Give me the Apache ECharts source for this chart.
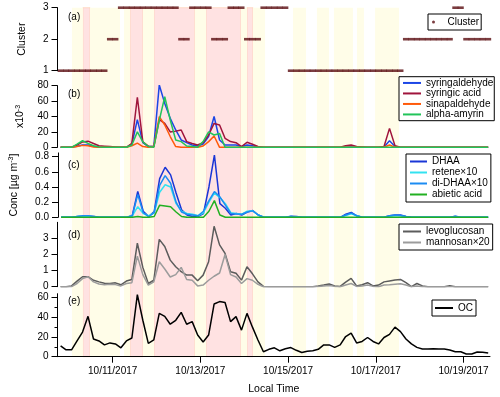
<!DOCTYPE html>
<html>
<head>
<meta charset="utf-8">
<script src="https://cdn.jsdelivr.net/npm/echarts@6/dist/echarts.min.js"></script>
<style>
  html, body { margin: 0; padding: 0; background: #fff; }
  #chart { width: 500px; height: 397px; }
</style>
</head>
<body>
<div id="chart"></div>
<script>
/* Time: hours after 10/11/2017 00:00, 3-h samples (midpoints) */
const sampleStart = -28.5;
const sampleStep = 3;
const sampleCount = 79;
const sampleHours = Array.from({ length: sampleCount }, (_, i) => sampleStart + i * sampleStep);

const tickHours = [0, 48, 96, 144, 192];
const tickLabels = ["10/11/2017", "10/13/2017", "10/15/2017", "10/17/2017", "10/19/2017"];

/* Shaded periods [start, end] in hours after 10/11/2017 00:00 */
const pinkBands = [[-16.3, -12.4], [9.5, 16.6], [22.6, 45.0], [51.1, 70.2], [73.5, 76.8]];
const yellowBands = [[-22.3, -16.3], [-12.4, 4.0], [6.2, 9.5], [16.6, 22.6], [45.0, 51.1],
  [70.2, 73.5], [76.8, 83.4], [98.7, 105.8], [111.8, 118.4], [121.1, 131.5],
  [133.7, 137.5], [143.6, 156.7]];

/* (a) cluster */
const cluster = [1,1,1,1,1,1,1,1,1, 2,2, 3,3,3,3,3,3,3,3,3,3,3, 2,2, 3,3,3,3, 2,2,2,
  3,3,3, 2,2,2, 3,3,3,3,3,
  1,1,1,1,1,1,1,1,1,1,1,1,1,1,1,1,1,1,1,1,1,
  2,2,2,2,2,2,2,2,2, 3,3, 2,2,2,2,2];

/* (b) x10^-3 */
const syringaldehyde = [0,0,0,1.5,3,3,1.5,0.5,0,0,
  0,0,0,4,36,6,1,1,81,57,
  37.6,22.5,9.5,6,3,1.7,4.3,14,40,9.5,
  3,3,3,1,3,2,0.5,0,0,0,
  0,0,0,0,0,0,0,0,0,0,
  0,0,0,0.5,0,0,0,0,0,0.5,
  8.6,1,0,0,0,0,0,0,0,0,
  0,0,0,0,0,0,0,0,0];
const syringicAcid = [0,0,0,3,7,8,5,2,1.5,1,
  0.5,0,0,5,65,7,1.5,1,36,31,
  20,21,22.5,7.4,5,3,6,16,31,29,
  11.7,7.4,6,1,6.5,4,1,0,0,0,
  0,0,0,0,0,0,0,0,0,0,
  0,0,2,3,1,0.5,0,0,0,1,
  24.6,2,0,0,0,0,0,0,0,0,
  0,0,0,0,0,0,0,0,0];
const sinapaldehyde = [0,0,0,1,2.5,2,0.5,0,0,0,
  0,0,0,2,5.5,1,0,1,39.8,29,
  14,1,0,0,0,0,1.7,7.4,14.7,0,
  0,0,0,0,0,0,0,0,0,0,
  0,0,0,0,0,0,0,0,0,0,
  0,0,0,0,0,0,0,0,0,0,
  3,0,0,0,0,0,0,0,0,0,
  0,0,0,0,0,0,0,0,0];
const alphaAmyrin = [0,0,0,4,8.5,5,2,0.5,0,0,
  0,0,0,3,20,7,1,0,35,65.7,
  35.5,9.5,7.4,1.7,1,0,7.4,20,16,18,
  0,0,0,0,0,0,0,0,0,0,
  0,0,0,0,0,0,0,0,0,0,
  0,0,0,0,0,0,0,0,0,0,
  0,0,0,0,0,0,0,0,0,0,
  0,0,0,0,0,0,0,0,0];

/* (c) µg m-3 */
const dhaa = [0,0,0,0.01,0.015,0.015,0.01,0,0,0,
  0,0,0,0.02,0.34,0.08,0.01,0.075,0.51,0.66,
  0.56,0.32,0.1,0.03,0.01,0.01,0.05,0.4,0.82,0.18,
  0.12,0.03,0.05,0.03,0.07,0.09,0.03,0,0,0,
  0,0,0.015,0.01,0,0,0,0,0,0,
  0,0,0.04,0.065,0.02,0,0,0,0,0,
  0.02,0.03,0.03,0.01,0,0,0,0,0,0,
  0,0,0.015,0,0,0,0,0,0];
const retene10 = [0,0,0,0.01,0.015,0.015,0.005,0,0,0,
  0,0,0,0.02,0.14,0.05,0.02,0.06,0.33,0.43,
  0.4,0.18,0.08,0.05,0.04,0.02,0.06,0.2,0.32,0.26,
  0.18,0.06,0.05,0.04,0.08,0.085,0.03,0,0,0,
  0,0,0.01,0.005,0,0,0,0,0,0,
  0,0,0.025,0.045,0.02,0,0,0,0,0,
  0.015,0.02,0.02,0.005,0,0,0,0,0,0,
  0,0,0.01,0,0,0,0,0,0];
const diDhaa10 = [0,0,0,0.01,0.02,0.02,0.01,0,0,0,
  0,0,0,0.02,0.3,0.06,0.01,0.06,0.42,0.55,
  0.45,0.2,0.07,0.04,0.03,0.02,0.08,0.22,0.34,0.27,
  0.16,0.05,0.045,0.04,0.07,0.085,0.03,0,0,0,
  0,0,0.01,0.005,0,0,0,0,0,0,
  0,0,0.03,0.055,0.02,0,0,0,0,0,
  0.02,0.03,0.025,0.01,0,0,0,0,0,0,
  0,0,0.01,0,0,0,0,0,0];
const abieticAcid = [0,0,0,0,0,0,0,0,0,0,
  0,0,0,0,0.01,0,0,0.01,0.16,0.15,
  0.14,0.07,0.01,0,0,0,0,0.08,0.22,0.03,
  0,0,0,0,0,0,0,0,0,0,
  0,0,0,0,0,0,0,0,0,0,
  0,0,0,0,0,0,0,0,0,0,
  0,0,0,0,0,0,0,0,0,0,
  0,0,0,0,0,0,0,0,0];

/* (d) */
const levoglucosan = [0,0,0.05,0.35,0.62,0.62,0.4,0.3,0.22,0.2,
  0.24,0.12,0.35,0.45,2.7,1.2,0.2,0.4,2.94,2.5,
  1.65,1.24,0.93,0.72,0.72,0.37,0.72,1.55,3.75,2.6,
  2.07,0.93,0.83,0.41,1.24,0.8,0.3,0.02,0,0,
  0,0,0,0,0,0,0,0.04,0.1,0.17,
  0.05,0.02,0.28,0.52,0.04,0.12,0.25,0.05,0.1,0.3,
  0.36,0.42,0.45,0.25,0.01,0.2,0.05,0,0,0,
  0,0.06,0,0,0,0,0,0,0];
const mannosan20 = [0,0,0,0.2,0.5,0.62,0.3,0.17,0.12,0.15,
  0.13,0.05,0.2,0.25,1.9,0.75,0.1,0.3,1.55,1.1,
  0.6,0.75,1.2,0.45,0.4,0.05,0.1,0.4,0.65,0.85,
  2.0,0.75,0.6,0.2,0.5,0.4,0.15,0,0,0,
  0,0,0,0,0,0,0,0.02,0.05,0.08,
  0.02,0,0.1,0.2,0.02,0.05,0.1,0.02,0,0.1,
  0.12,0.15,0.18,0.1,0,0.05,0,0,0,0,
  0,0,0,0,0,0,0,0,0];

/* (e) */
const oc = [11,7,7,16,25,41,18,16,12,14,
  13,9,16,19,63,37,13.5,17,44,41,
  33,37,45,33,35.6,22,15,22,53.5,56,
  55,35.6,40.7,27,44,30,17,5,7.5,9,
  6,8,9.3,6.5,4.3,5.5,6,7.5,12,12,
  9.5,12,20.5,24,14,15.5,19.5,15.5,13,19.5,
  22.7,30,25.5,18,13,9.5,7.8,7.8,8,7.8,
  7.8,6.8,5,5,2.7,2.7,4.7,4.4,3.7];

const yTicksA = [1, 2, 3];
const yTicksB = [0, 20, 40, 60, 80];
const yTicksC = [0, 0.2, 0.4, 0.6, 0.8];
const yTicksD = [0, 1, 2, 3];
const yTicksE = [0, 20, 40, 60];
const yMinorE = [10, 30, 50];

/* ---------- build ---------- */
const FONT = "'Liberation Sans', Arial, sans-serif";
const X_MIN = -30.2, X_MAX = 206.5;
const LEFT = 57.5, WIDTH = 432.5;

const pairs = vals => sampleHours.map((h, i) => [h, vals[i]]);

const grids = [
  { top: 7.7, height: 63 },
  { top: 85.7, height: 61.6 },
  { top: 152.9, height: 64.4 },
  { top: 222.3, height: 64.4 },
  { top: 293.7, height: 63 },
  { top: 7.7, height: 349 }
].map(g => Object.assign({ left: LEFT, width: WIDTH }, g));

const xAxes = grids.map((g, i) => ({
  gridIndex: i, type: "value", min: X_MIN, max: X_MAX, show: false
}));
Object.assign(xAxes[4], {
  show: true, z: 5,
  axisLine: { onZero: false, lineStyle: { color: "#000", width: 1 } },
  axisTick: { customValues: tickHours, length: 6, lineStyle: { color: "#000" } },
  axisLabel: {
    customValues: tickHours, color: "#000", fontSize: 10, fontFamily: FONT, margin: 10,
    formatter: v => tickLabels[tickHours.indexOf(v)]
  },
  splitLine: { show: false },
  name: "Local Time", nameLocation: "middle", nameGap: 27,
  nameTextStyle: { color: "#000", fontSize: 10.5, fontFamily: FONT }
});

function yAx(grid, min, max, ticks, opts) {
  return Object.assign({
    gridIndex: grid, type: "value", min, max, z: 5, position: "left",
    axisLine: { show: true, onZero: false, lineStyle: { color: "#000", width: 1 } },
    axisTick: { show: true, customValues: ticks, length: 6, lineStyle: { color: "#000" } },
    axisLabel: { customValues: ticks, color: "#000", fontSize: 10, fontFamily: FONT, margin: 9 },
    splitLine: { show: false },
    nameLocation: "middle", nameRotate: 90,
    nameTextStyle: { color: "#000", fontSize: 10.5, fontFamily: FONT }
  }, opts || {});
}
const supRich = { s: { fontSize: 7, lineHeight: 7, verticalAlign: "top", fontFamily: FONT, color: "#000" } };

const yAxes = [
  yAx(0, 1, 3, yTicksA, { name: "Cluster", nameGap: 30 }),
  yAx(1, 0, 80, yTicksB, {
    name: "x10{s|-3}", nameGap: 24,
    nameTextStyle: { color: "#000", fontSize: 10.5, fontFamily: FONT, lineHeight: 12, rich: supRich }
  }),
  yAx(2, 0, 0.85, yTicksC, {
    name: "Conc [µg m{s|-3}]", nameGap: 38,
    nameTextStyle: { color: "#000", fontSize: 10.5, fontFamily: FONT, lineHeight: 12, rich: supRich }
  }),
  yAx(3, 0, 4, yTicksD),
  yAx(4, 0, 64, yTicksE),
  { gridIndex: 5, type: "value", min: 0, max: 1, show: false },
  yAx(4, 0, 64, yMinorE, {
    offset: 0,
    axisLine: { show: false, onZero: false },
    axisTick: { show: true, customValues: yMinorE, length: 3, lineStyle: { color: "#000" } },
    axisLabel: { show: false }
  })
];
yAxes[2].axisLabel.formatter = v => v.toFixed(1);

function line(name, vals, grid, color) {
  return {
    name, type: "line", xAxisIndex: grid, yAxisIndex: grid, data: pairs(vals),
    showSymbol: false, symbol: "none", z: 3, color,
    lineStyle: { color, width: 1.5 }
  };
}

const bandData = pinkBands.map(b => [
  { xAxis: b[0], itemStyle: { color: "#ffe2e2", borderColor: "rgba(255,205,175,0.8)", borderWidth: 0.8 } },
  { xAxis: b[1] }
]).concat(yellowBands.map(b => [
  { xAxis: b[0], itemStyle: { color: "#fffde8" } },
  { xAxis: b[1] }
]));

const series = [
  {
    name: "bands", type: "line", xAxisIndex: 5, yAxisIndex: 5, data: [], z: 1, silent: true,
    markArea: { silent: true, data: bandData }
  },
  {
    name: "Cluster", type: "scatter", xAxisIndex: 0, yAxisIndex: 0, data: pairs(cluster),
    symbol: "rect", symbolSize: [6, 2.6], color: "#5a0c10", z: 3
  },
  line("syringaldehyde", syringaldehyde, 1, "#1c46e6"),
  line("syringic acid", syringicAcid, 1, "#a0143c"),
  line("sinapaldehyde", sinapaldehyde, 1, "#ff5a0a"),
  line("alpha-amyrin", alphaAmyrin, 1, "#22c45a"),
  line("DHAA", dhaa, 2, "#1a36d6"),
  line("retene×10", retene10, 2, "#33e2f0"),
  line("di-DHAA×10", diDhaa10, 2, "#1c8cf2"),
  line("abietic acid", abieticAcid, 2, "#22b022"),
  line("levoglucosan", levoglucosan, 3, "#5c5c5c"),
  line("mannosan×20", mannosan20, 3, "#9c9c9c"),
  line("OC", oc, 4, "#000")
];

function legend(names, left, top, lh, pad, extra) {
  return Object.assign({
    data: names, left, top, orient: "vertical", selectedMode: false,
    backgroundColor: "#fff", borderColor: "#000", borderWidth: 1, borderRadius: 0,
    padding: pad, itemGap: 0, itemWidth: 18, itemHeight: 2, itemTextGap: 5, icon: "rect",
    textStyle: { color: "#000", fontSize: 10, fontFamily: FONT, lineHeight: lh }
  }, extra || {});
}

const legends = [
  legend(["Cluster"], 428, 14, 11, [2.5, 2, 2.5, 4], { icon: "circle", itemHeight: 3 }),
  legend(["syringaldehyde", "syringic acid", "sinapaldehyde", "alpha-amyrin"], 399, 76.7, 10.5, [1, 1, 1, 4]),
  legend(["DHAA", "retene×10", "di-DHAA×10", "abietic acid"], 406, 154, 11, [2, 3, 2, 4], { itemWidth: 17 }),
  legend(["levoglucosan", "mannosan×20"], 399, 224, 11, [2, 3, 2, 4]),
  legend(["OC"], 432, 300, 11, [2.5, 3, 2.5, 3])
];

const panelLabels = [["(a)", 17], ["(b)", 94], ["(c)", 165], ["(d)", 235.5], ["(e)", 301.5]];
const graphic = panelLabels.map(p => ({
  type: "text", x: 68, y: p[1], z: 10,
  style: { text: p[0], fill: "#000", fontSize: 10, fontFamily: FONT, verticalAlign: "middle" }
}));

const chart = echarts.init(document.getElementById("chart"), null, { renderer: "canvas" });
chart.setOption({
  animation: false,
  backgroundColor: "#fff",
  grid: grids,
  xAxis: xAxes,
  yAxis: yAxes,
  legend: legends,
  graphic,
  series
});
</script>
</body>
</html>
